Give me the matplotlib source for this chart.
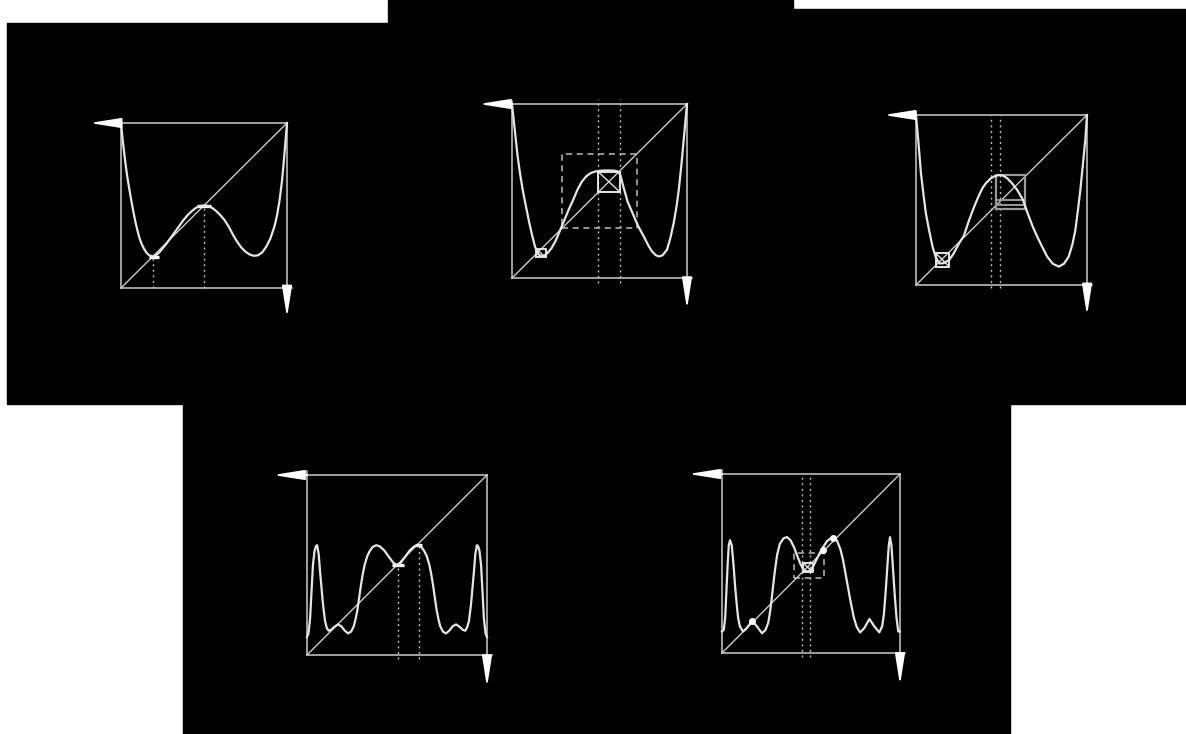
import matplotlib
matplotlib.use("Agg")
import matplotlib.pyplot as plt
from matplotlib.patches import Rectangle

W, H = 1186, 734

# black background pieces (left, top, right, bottom) in pixels
black_areas = [(7, 23, 388, 404), (388, 0, 793, 404), (793, 9, 1186, 404), (183, 404, 1010, 734)]

# panel boxes in pixels (left, top, right, bottom)
boxes = [(121, 123, 287, 288), (512, 104, 687, 278), (916, 115, 1087, 285),
         (307, 475, 487, 655), (722, 474, 900, 653)]

# curves (box coords, 0..1)
x1 = [0, 0.012, 0.025, 0.037, 0.05, 0.062, 0.075, 0.087, 0.1, 0.112, 0.125, 0.14, 0.155, 0.17, 0.19, 0.21,
      0.23, 0.25, 0.275, 0.3, 0.325, 0.35, 0.375, 0.4, 0.425, 0.45, 0.475, 0.5, 0.525, 0.55, 0.575, 0.6,
      0.625, 0.65, 0.675, 0.7, 0.725, 0.75, 0.775, 0.8, 0.825, 0.85, 0.875, 0.9, 0.925, 0.94, 0.955, 0.97,
      0.98, 0.99, 1.0]
y1 = [1.0, 0.88, 0.77, 0.68, 0.6, 0.53, 0.46, 0.4, 0.345, 0.3, 0.265, 0.235, 0.212, 0.198, 0.192, 0.198,
      0.215, 0.24, 0.27, 0.305, 0.34, 0.375, 0.41, 0.44, 0.465, 0.485, 0.497, 0.5, 0.497, 0.485, 0.465,
      0.44, 0.41, 0.37, 0.322, 0.28, 0.245, 0.22, 0.203, 0.195, 0.198, 0.215, 0.25, 0.3, 0.375, 0.44,
      0.53, 0.65, 0.76, 0.88, 1.0]

x2 = [0, 0.016, 0.032, 0.046, 0.061, 0.08, 0.099, 0.115, 0.131, 0.148, 0.165, 0.183, 0.2, 0.225, 0.25,
      0.275, 0.3, 0.325, 0.35, 0.375, 0.4, 0.425, 0.45, 0.475, 0.5, 0.53, 0.56, 0.59, 0.605, 0.62, 0.635,
      0.66, 0.69, 0.72, 0.753, 0.78, 0.8, 0.82, 0.839, 0.86, 0.886, 0.905, 0.924, 0.94, 0.953, 0.968,
      0.981, 0.992, 1.0]
y2 = [1.0, 0.85, 0.70, 0.60, 0.507, 0.41, 0.316, 0.245, 0.182, 0.14, 0.124, 0.128, 0.14, 0.17, 0.215,
      0.275, 0.335, 0.395, 0.45, 0.51, 0.555, 0.585, 0.603, 0.612, 0.616, 0.618, 0.618, 0.616, 0.612,
      0.59, 0.53, 0.44, 0.37, 0.30, 0.239, 0.185, 0.153, 0.132, 0.124, 0.13, 0.163, 0.23, 0.316, 0.41,
      0.507, 0.65, 0.793, 0.91, 1.0]

x3 = [0, 0.015, 0.029, 0.044, 0.058, 0.078, 0.097, 0.115, 0.136, 0.16, 0.194, 0.22, 0.252, 0.28, 0.31,
      0.34, 0.365, 0.388, 0.41, 0.437, 0.46, 0.485, 0.51, 0.534, 0.56, 0.592, 0.626, 0.65, 0.684, 0.709,
      0.74, 0.767, 0.8, 0.835, 0.865, 0.893, 0.915, 0.932, 0.947, 0.961, 0.975, 0.99, 1.0]
y3 = [1.0, 0.83, 0.657, 0.53, 0.42, 0.315, 0.225, 0.165, 0.127, 0.128, 0.147, 0.185, 0.245, 0.29, 0.38,
      0.46, 0.52, 0.569, 0.6, 0.627, 0.64, 0.647, 0.643, 0.627, 0.6, 0.559, 0.5, 0.43, 0.34, 0.284, 0.22,
      0.167, 0.125, 0.108, 0.125, 0.167, 0.24, 0.324, 0.44, 0.559, 0.7, 0.853, 1.0]

x4 = [0, 0.008, 0.017, 0.025, 0.033, 0.042, 0.05, 0.056, 0.065, 0.072, 0.08, 0.089, 0.1, 0.11, 0.12,
      0.135, 0.15, 0.172, 0.19, 0.21, 0.228, 0.245, 0.26, 0.27, 0.28, 0.29, 0.3, 0.31, 0.32, 0.335, 0.35,
      0.365, 0.385, 0.405, 0.43, 0.455, 0.48, 0.5, 0.52, 0.545, 0.57, 0.595, 0.615, 0.635, 0.65, 0.665,
      0.68, 0.69, 0.7, 0.71, 0.72, 0.73, 0.74, 0.755, 0.772, 0.79, 0.81, 0.828, 0.85, 0.865, 0.88, 0.89,
      0.9, 0.911, 0.92, 0.928, 0.935, 0.944, 0.95, 0.958, 0.967, 0.975, 0.983, 0.992, 1.0]
y4 = [0.10, 0.12, 0.2, 0.35, 0.5, 0.58, 0.605, 0.61, 0.56, 0.47, 0.38, 0.28, 0.19, 0.15, 0.135, 0.14,
      0.155, 0.17, 0.16, 0.135, 0.12, 0.13, 0.16, 0.2, 0.25, 0.32, 0.39, 0.45, 0.5, 0.55, 0.58, 0.6, 0.61,
      0.603, 0.58, 0.545, 0.512, 0.5, 0.512, 0.545, 0.58, 0.603, 0.61, 0.6, 0.58, 0.55, 0.5, 0.45, 0.39,
      0.32, 0.25, 0.2, 0.16, 0.13, 0.12, 0.135, 0.16, 0.17, 0.155, 0.14, 0.135, 0.155, 0.19, 0.28, 0.38,
      0.47, 0.56, 0.61, 0.605, 0.58, 0.5, 0.35, 0.2, 0.12, 0.10]

x5 = [0, 0.01, 0.018, 0.025, 0.032, 0.038, 0.045, 0.055, 0.065, 0.073, 0.082, 0.09, 0.1, 0.118, 0.14,
      0.169, 0.195, 0.225, 0.245, 0.26, 0.27, 0.28, 0.29, 0.3, 0.31, 0.325, 0.345, 0.365, 0.385, 0.405,
      0.42, 0.438, 0.455, 0.475, 0.495, 0.51, 0.53, 0.55, 0.567, 0.59, 0.61, 0.626, 0.645, 0.665, 0.68,
      0.7, 0.72, 0.74, 0.757, 0.776, 0.8, 0.828, 0.855, 0.884, 0.9, 0.91, 0.92, 0.93, 0.937, 0.944, 0.952,
      0.96, 0.97, 0.98, 0.99, 1.0]
y5 = [0.12, 0.13, 0.2, 0.35, 0.5, 0.6, 0.63, 0.6, 0.49, 0.38, 0.28, 0.2, 0.15, 0.12, 0.14, 0.18, 0.15,
      0.11, 0.13, 0.17, 0.23, 0.31, 0.4, 0.48, 0.55, 0.61, 0.64, 0.648, 0.63, 0.59, 0.55, 0.503, 0.47,
      0.455, 0.46, 0.48, 0.52, 0.56, 0.59, 0.625, 0.64, 0.64, 0.63, 0.58, 0.52, 0.41, 0.30, 0.2, 0.145,
      0.115, 0.14, 0.19, 0.15, 0.115, 0.15, 0.22, 0.35, 0.5, 0.6, 0.647, 0.6, 0.48, 0.33, 0.2, 0.12, 0.12]

curves = [(x1, y1), (x2, y2), (x3, y3), (x4, y4), (x5, y5)]

# dotted guide lines: (x, y_from, y_to)
guides = [
    [(0.19, 0.0, 0.19), (0.5, 0.0, 0.5)],
    [(0.491, -0.03, 1.03), (0.617, -0.03, 1.03)],
    [(0.44, -0.02, 1.0), (0.49, -0.02, 1.0)],
    [(0.503, -0.02, 0.5), (0.62, -0.02, 0.61)],
    [(0.449, -0.02, 1.0), (0.495, -0.02, 1.0)],
]
# cobweb squares (x0, x1, y0, y1, with cross)
squares = [
    [],
    [(0.491, 0.617, 0.494, 0.612, True), (0.137, 0.194, 0.118, 0.166, True)],
    [(0.117, 0.194, 0.108, 0.186, True)],
    [],
    [(0.455, 0.51, 0.453, 0.503, True)],
]
# dashed windows (x0, x1, y0, y1)
windows = [None, (0.286, 0.714, 0.287, 0.713), None, None, (0.405, 0.575, 0.42, 0.56)]
# gray renormalisation box in panel 3 (x0, x1, y0, y1) and its inner rungs
gray_box = (0.465, 0.64, 0.45, 0.647)
gray_rungs = [0.5, 0.47]
# short highlights on the curve (x0, x1, y)
highlights = [
    [(0.17, 0.23, 0.19), (0.46, 0.54, 0.5)],
    [], [],
    [(0.47, 0.54, 0.5), (0.6, 0.64, 0.61)],
    [],
]
dots = [[], [], [], [], [(0.169, 0.18), (0.625, 0.64), (0.567, 0.575)]]

fig = plt.figure(figsize=(W / 100, H / 100), dpi=100)
fig.patch.set_facecolor("white")
for (l, t, r, b) in black_areas:
    fig.add_artist(Rectangle((l / W, 1 - b / H), (r - l) / W, (b - t) / H,
                             transform=fig.transFigure, color="black", zorder=-5))

CURVE = "#e6e6e6"
FRAME = "#cccccc"
ARROW = "-|>,head_length=1.9,head_width=0.3"
pad = 0.3
for i, (l, t, r, b) in enumerate(boxes):
    w, h = r - l, b - t
    ax = fig.add_axes([(l - pad * w) / W, 1 - (b + pad * h) / H,
                       (1 + 2 * pad) * w / W, (1 + 2 * pad) * h / H])
    ax.set_xlim(-pad, 1 + pad)
    ax.set_ylim(-pad, 1 + pad)
    ax.axis("off")
    ax.patch.set_alpha(0)

    # frame
    ax.plot([0, 1], [1, 1], color=FRAME, lw=1.1)
    ax.plot([0, 1.03], [0, 0], color=FRAME, lw=1.1)
    ax.plot([0, 0], [0, 1.02], color=FRAME, lw=1.1)
    ax.plot([1, 1], [0, 1], color=FRAME, lw=1.1)
    ax.plot([0, 1], [0, 1], color=FRAME, lw=1.0)
    # arrows
    ax.annotate("", xy=(-0.19, 1), xytext=(0, 1),
                arrowprops=dict(arrowstyle=ARROW, color="white", lw=1.3, shrinkA=0, shrinkB=0),
                annotation_clip=False)
    ax.annotate("", xy=(1, -0.18), xytext=(1, 0),
                arrowprops=dict(arrowstyle=ARROW, color="white", lw=1.3, shrinkA=0, shrinkB=0),
                annotation_clip=False)

    for gx, g0, g1 in guides[i]:
        ax.plot([gx, gx], [g0, g1], color="#bdbdbd", lw=1.0, ls=(0, (1.5, 2.5)))

    win = windows[i]
    if win:
        a0, a1, b0, b1 = win
        ax.plot([a0, a1, a1, a0, a0], [b0, b0, b1, b1, b0], color="#bdbdbd", lw=1.1, ls=(0, (4, 3)))

    if i == 2:
        a0, a1, b0, b1 = gray_box
        ax.plot([a0, a1, a1, a0, a0], [b0, b0, b1, b1, b0], color="#9a9a9a", lw=1.6)
        for yr in gray_rungs:
            ax.plot([a0, a1], [yr, yr], color="#9a9a9a", lw=1.4)

    for a0, a1, b0, b1, cross in squares[i]:
        ax.plot([a0, a1, a1, a0, a0], [b0, b0, b1, b1, b0], color=CURVE, lw=1.4)
        if cross:
            ax.plot([a0, a1], [b1, b0], color=CURVE, lw=1.0)

    for a0, a1, yy in highlights[i]:
        ax.plot([a0, a1], [yy, yy], color="white", lw=2.4, solid_capstyle="butt")

    cx, cy = curves[i]
    ax.plot(cx, cy, color=CURVE, lw=1.6, solid_joinstyle="round")

    for dx, dy in dots[i]:
        ax.plot(dx, dy, "o", color="white", ms=4)

fig.savefig("out.png", dpi=100, facecolor="white")
